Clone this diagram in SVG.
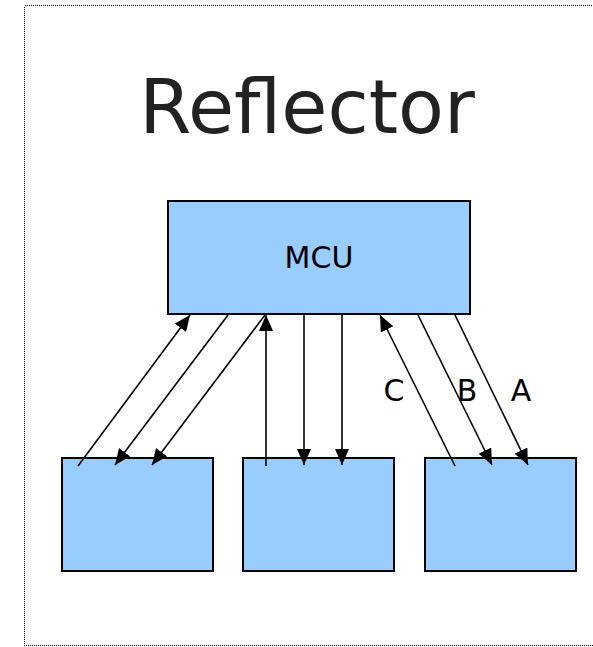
<svg xmlns="http://www.w3.org/2000/svg" width="593" height="647" viewBox="0 0 593 647">
<style>
.box{fill:#99ccff;stroke:#000;stroke-width:2}
.ln{stroke:#000;stroke-width:1.6;fill:none;marker-end:url(#ah)}
.lbl{font-family:"DejaVu Sans",sans-serif;font-size:30px;fill:#000;text-anchor:middle}
</style>
<defs>
<marker id="ah" viewBox="0 0 16 14" refX="16" refY="7" markerWidth="16" markerHeight="14" markerUnits="userSpaceOnUse" orient="auto">
<path d="M0,0 L16,7 L0,14 Z" fill="#000"/>
</marker>
</defs>
<rect x="24.5" y="5.5" width="600" height="640" fill="none" stroke="#000" stroke-width="1" stroke-dasharray="1,1" shape-rendering="crispEdges"/>
<text x="307" y="133" font-family="DejaVu Sans,sans-serif" font-size="75" fill="#222" text-anchor="middle">Reflector</text>
<g id="mcu">
<rect class="box" x="168" y="201" width="302" height="113"/>
<text class="lbl" x="319" y="268">MCU</text>
</g>
<g id="node-left"><rect class="box" x="62" y="458" width="151" height="113"/></g>
<g id="node-mid"><rect class="box" x="243" y="458" width="151" height="113"/></g>
<g id="node-right"><rect class="box" x="425" y="458" width="151" height="113"/></g>
<g id="connectors">
<line class="ln" x1="78" y1="466" x2="190" y2="315"/>
<line class="ln" x1="228" y1="315" x2="115" y2="465"/>
<line class="ln" x1="265" y1="315" x2="152" y2="465"/>
<line class="ln" x1="266" y1="466" x2="266" y2="315"/>
<line class="ln" x1="304" y1="315" x2="304" y2="465"/>
<line class="ln" x1="342" y1="315" x2="342" y2="465"/>
<line class="ln" x1="455" y1="466" x2="380" y2="315"/>
<line class="ln" x1="418" y1="315" x2="492" y2="465"/>
<line class="ln" x1="455" y1="315" x2="528" y2="465"/>
<text class="lbl" x="394" y="401">C</text>
<text class="lbl" x="467" y="401">B</text>
<text class="lbl" x="521" y="401">A</text>
</g>
</svg>
